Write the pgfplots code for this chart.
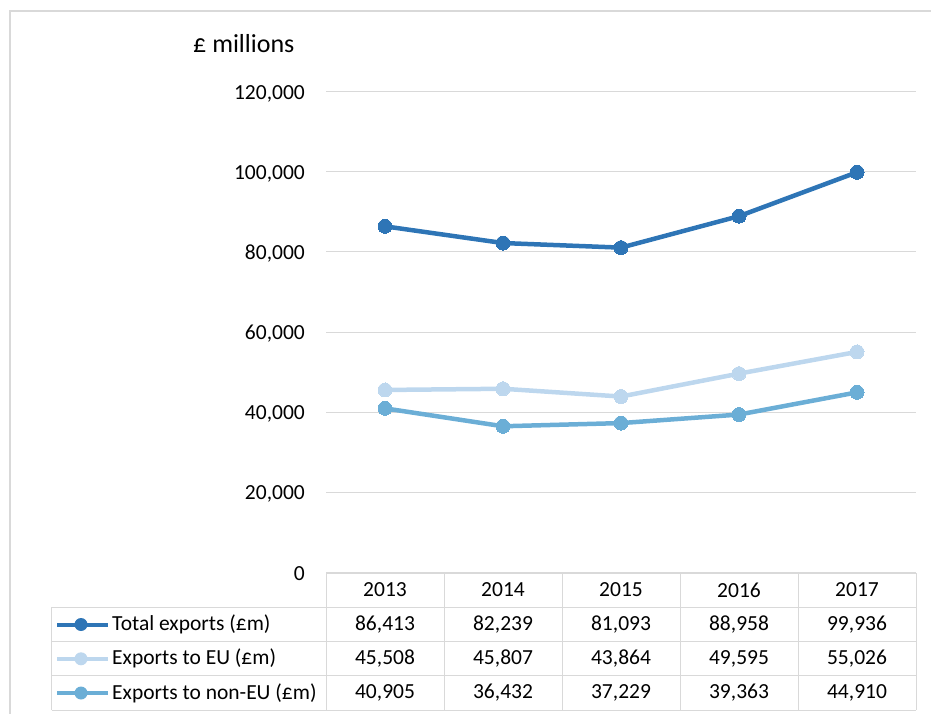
\documentclass[border=0pt]{standalone}
\usepackage{pgfplots}
\pgfplotsset{compat=1.18}
\usepackage{fontspec}
\setmainfont{Carlito}
\definecolor{ctotal}{HTML}{2E75B6}
\definecolor{ceu}{HTML}{BDD7EE}
\definecolor{cnon}{HTML}{6BAED6}
\definecolor{gridc}{HTML}{D9D9D9}
\newcommand{\tf}{\fontsize{21.5}{26}\selectfont}
\begin{document}
\begin{tikzpicture}
\useasboundingbox (0pt,0pt) rectangle (931pt,713pt);
\draw[gridc, line width=2pt] (10pt,-10pt) -- (10pt,702pt) -- (945pt,702pt);
\begin{axis}[
  at={(326pt,141pt)}, anchor=south west,
  scale only axis, width=590pt, height=480pt,
  xmin=-0.5, xmax=4.5, ymin=0, ymax=120000,
  xtick=\empty,
  ytick={0,20000,40000,60000,80000,100000,120000},
  scaled y ticks=false,
  yticklabel style={/pgf/number format/fixed, /pgf/number format/1000 sep={,}, /pgf/number format/assume math mode=true, anchor=east, inner sep=0pt, xshift=-21pt, yshift=-1.5pt, font=\tf},
  axis line style={draw=none},
  major tick length=0pt,
  ymajorgrids,
  grid style={gridc, line width=1pt},
  clip=false,
]
\addplot[ctotal, line width=4.5pt, mark=*, mark size=7pt, mark options={solid, fill=ctotal, draw=ctotal, line width=0pt}]
  coordinates {(0,86413) (1,82239) (2,81093) (3,88958) (4,99936)};
\addplot[ceu, line width=4.5pt, mark=*, mark size=7pt, mark options={solid, fill=ceu, draw=ceu, line width=0pt}]
  coordinates {(0,45508) (1,45807) (2,43864) (3,49595) (4,55026)};
\addplot[cnon, line width=4.5pt, mark=*, mark size=7pt, mark options={solid, fill=cnon, draw=cnon, line width=0pt}]
  coordinates {(0,40905) (1,36432) (2,37229) (3,39363) (4,44910)};
\end{axis}
\begin{scope}[x=1pt, y=1pt]
% y-axis title
\node[anchor=base west, inner sep=0pt, font=\fontsize{26}{31}\selectfont] at (193,660) {£ millions};
% data table grid
\begin{scope}[gridc, line width=1pt]
\draw (326,140) -- (916,140);
\draw (51.5,105.7) -- (916,105.7);
\draw (51.5,71.4) -- (916,71.4);
\draw (51.5,37.1) -- (916,37.1);
\draw (51.5,2.8) -- (916,2.8);
\draw (51.5,105.7) -- (51.5,2.8);
\foreach \xx in {326,444,562,680,798,916} \draw (\xx,140) -- (\xx,2.8);
\end{scope}
% header years
\foreach \xx/\yr in {385/2013,503/2014,621/2015,739/2016,857/2017}
  \node[font=\tf, inner sep=0pt] at (\xx,123) {\yr};
% legend keys
\foreach \yy/\cc in {88.5/ctotal,54.2/ceu,20/cnon}{
  \draw[\cc, line width=4pt] (57,\yy) -- (108,\yy);
  \fill[\cc] (81,\yy) circle (6.5);
}
\node[font=\tf, anchor=west, inner sep=0pt] at (112,88.5) {Total exports (£m)};
\node[font=\tf, anchor=west, inner sep=0pt] at (112,54.2) {Exports to EU (£m)};
\node[font=\tf, anchor=west, inner sep=0pt] at (112,20) {Exports to non-EU (£m)};
% table values
\foreach \xx/\a/\b/\c in {385/86{,}413/45{,}508/40{,}905, 503/82{,}239/45{,}807/36{,}432, 621/81{,}093/43{,}864/37{,}229, 739/88{,}958/49{,}595/39{,}363, 857/99{,}936/55{,}026/44{,}910}{
  \node[font=\tf, inner sep=0pt] at (\xx,88.5) {\a};
  \node[font=\tf, inner sep=0pt] at (\xx,54.2) {\b};
  \node[font=\tf, inner sep=0pt] at (\xx,20) {\c};
}
\end{scope}
\end{tikzpicture}
\end{document}
